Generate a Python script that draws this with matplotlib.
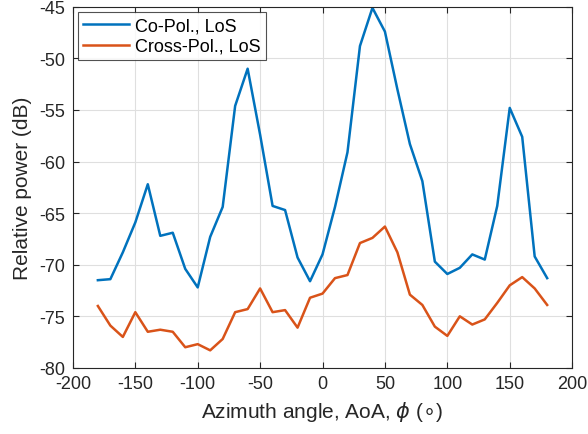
import numpy as np
import matplotlib
matplotlib.use('Agg')
import matplotlib.pyplot as plt

plt.rcParams['font.family'] = ['Liberation Sans', 'DejaVu Sans']
plt.rcParams['mathtext.fontset'] = 'dejavusans'
plt.rcParams['axes.unicode_minus'] = False

# angulos de llegada (grados)
azimut = np.arange(-180, 181, 10)

# potencia relativa (dB)
co_pol = [-71.5, -71.4, -68.8, -65.9, -62.2, -67.2, -66.9, -70.4, -72.2, -67.3,
          -64.4, -54.6, -51.0, -57.4, -64.3, -64.7, -69.3, -71.6, -69.0, -64.4,
          -59.1, -48.8, -45.1, -47.4, -53.0, -58.3, -61.9, -69.7, -70.9, -70.3,
          -69.0, -69.5, -64.3, -54.8, -57.6, -69.2, -71.3]
cross_pol = [-74.0, -75.9, -77.0, -74.6, -76.5, -76.3, -76.5, -78.0, -77.7, -78.3,
             -77.2, -74.6, -74.3, -72.3, -74.6, -74.4, -76.1, -73.2, -72.8, -71.3,
             -71.0, -67.9, -67.4, -66.3, -68.8, -72.9, -73.9, -76.0, -76.9, -75.0,
             -75.8, -75.3, -73.7, -72.0, -71.2, -72.3, -73.9]

fig = plt.figure(figsize=(5.88, 4.35), dpi=100)
ax = fig.add_axes([0.124, 0.152, 0.849, 0.830])

ax.plot(azimut, co_pol, color='#0072BD', lw=1.8, label='Co-Pol., LoS')
ax.plot(azimut, cross_pol, color='#D95319', lw=1.8, label='Cross-Pol., LoS')

ax.set_xlim(-200, 200)
ax.set_ylim(-80, -45)
ax.set_xticks(np.arange(-200, 201, 50))
ax.set_yticks(np.arange(-80, -44, 5))
ax.grid(True, color='#dfdfdf', lw=0.8)
ax.set_axisbelow(True)
ax.tick_params(direction='in', labelsize=13, colors='#262626', length=4, top=True, right=True)
ax.tick_params(axis='y', pad=5.5)
ax.tick_params(axis='x', pad=5)
for s in ax.spines.values():
    s.set_color('#262626')
    s.set_linewidth(0.8)

ax.set_xlabel(r'Azimuth angle, AoA, $\phi$ ($\circ$)', fontsize=15, color='#262626', labelpad=5)
ax.set_ylabel('Relative power (dB)', fontsize=15, color='#262626', labelpad=5)

leg = ax.legend(loc='upper left', fontsize=13, fancybox=False, borderpad=0.3,
                handlelength=2.5, labelspacing=0.2, borderaxespad=0.28, handletextpad=0.35)
leg.get_frame().set_edgecolor('#262626')
leg.get_frame().set_linewidth(0.8)

fig.savefig('out.png', dpi=100)
